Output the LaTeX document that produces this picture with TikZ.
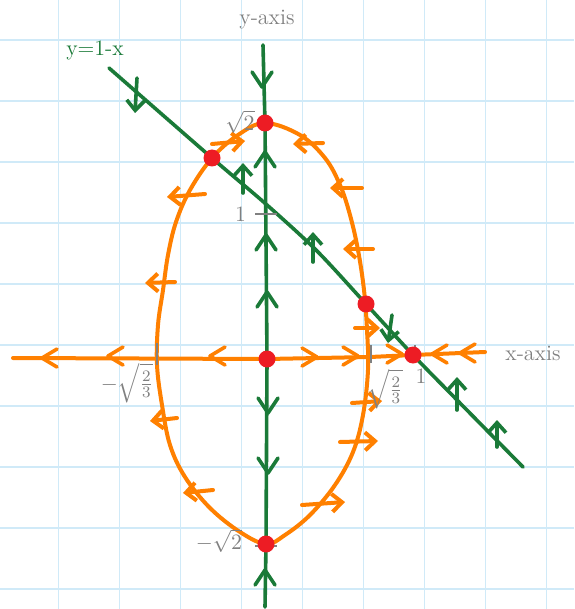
\documentclass[tikz,border=0pt]{standalone}
\usepackage{amsmath}
\usetikzlibrary{arrows.meta, positioning}

\definecolor{penorange}{RGB}{255,128,0}
\definecolor{pengreen}{RGB}{26,122,56}
\definecolor{penred}{RGB}{237,28,36}
\definecolor{pengrey}{RGB}{128,128,128}
\definecolor{gridblue}{RGB}{208,234,248}

\begin{document}
\begin{tikzpicture}[
    x=0.5pt, y=-0.5pt, % one unit = one pixel of the sketch
    >={Straight Barb[length=5pt,width=9pt]}, % hand drawn arrow heads
    gridline/.style={gridblue, line width=0.8pt}, % squared paper
    orangepen/.style={penorange, line width=2pt, line cap=round, line join=round},
    greenpen/.style={pengreen, line width=1.8pt, line cap=round, line join=round},
    tickmark/.style={pengrey, line width=1.2pt}, % grey tick marks
    dot/.style={fill=penred, circle, inner sep=0pt, minimum size=8.5pt}, % red fixed points
    labelstyle/.style={pengrey, font=\fontsize{11}{13}\selectfont}, % grey labels
    chev/.style={line width=1.8pt, line cap=round, line join=round} % chevrons on the lines
]

    % Page and squared paper
    \useasboundingbox (0,0) rectangle (574,609);
    \fill[white] (0,0) rectangle (574,609);
    \foreach \i in {0,...,8}
        \draw[gridline] (58.3+61*\i,0) -- (58.3+61*\i,609);
    \foreach \j in {0,...,9}
        \draw[gridline] (0,40+61*\j) -- (574,40+61*\j);

    % Fixed points
    \coordinate (top) at (265,123);    % sqrt 2
    \coordinate (bot) at (266,544);    % -sqrt 2
    \coordinate (orig) at (267,359);   % origin
    \coordinate (upleft) at (212,158); % ellipse meets y=1-x
    \coordinate (right) at (366,304);  % ellipse meets y=1-x
    \coordinate (one) at (413,355);    % (1,0)

    % Ellipse (orange)
    \draw[orangepen] plot[smooth cycle, tension=0.6] coordinates {
        (265,123) (300,135) (325,158) (340,185) (350,215) (358,250)
        (364,290) (367,330) (368,370) (363,415) (353,452) (335,485)
        (310,515) (285,535) (266,544) (240,532) (210,508) (185,477)
        (170,445) (162,405) (157,365) (158,325) (163,290) (168,255)
        (176,222) (190,190) (212,158) (238,135)};

    % x-axis (orange)
    \draw[orangepen] (13,358) -- (orig) -- (370,357) -- (one) -- (485,352);

    % y-axis (green)
    \draw[greenpen] (263,45) -- (top) -- (orig) -- (bot) -- (265,607);

    % Line y=1-x (green)
    \draw[greenpen] plot[smooth, tension=0.5] coordinates {
        (109,68) (212,158) (267,205) (317,251) (366,304)
        (413,355) (457,400) (523,467)};

    % Chevrons along the y-axis: tip x, tip y, +1 down / -1 up
    \foreach \x/\y/\s in {262/87/1, 265/152/-1, 266/235/-1, 267/292/-1,
                          268/413/1, 268/473/1, 265/570/-1}
        \draw[chev, pengreen] (\x-10,\y-15*\s) -- (\x,\y) -- (\x+10,\y-15*\s);

    % Chevrons along the x-axis: tip x, tip y, +1 right / -1 left
    \foreach \x/\y/\s in {42/358/-1, 108/356/-1, 210/356/-1, 317/357/1,
                          358/356/1, 402/354/1, 432/354/-1, 460/353/-1}
        \draw[chev, penorange] (\x-15*\s,\y-9) -- (\x,\y) -- (\x-15*\s,\y+9);

    % Horizontal flow across the ellipse
    \foreach \a/\b/\c/\d in {212/144/245/141, 205/194/167/197, 175/282/145/283,
                             177/418/150/421, 213/490/183/493, 323/143/293/144,
                             362/188/330/188, 373/249/343/249, 355/328/380/328,
                             352/403/382/401, 340/442/378/441, 302/505/345/502}
        \draw[orangepen, ->] (\a,\b) -- (\c,\d);

    % Vertical flow across y=1-x
    \foreach \a/\b/\c/\d in {137/78/135/113, 243/193/243/163, 313/262/313/232,
                             392/315/388/343, 457/410/457/377, 497/447/497/420}
        \draw[greenpen, ->] (\a,\b) -- (\c,\d);

    % Ticks
    \draw[tickmark] (157,343) -- (157,365);
    \draw[tickmark] (371,345) -- (371,363);
    \draw[tickmark] (415,345) -- (415,363);
    \draw[tickmark] (255,214) coordinate (ytick) -- (277,214);
    \draw[tickmark] (255,546) -- (277,546);

    % Labels
    \node[labelstyle] (yaxis) at (267,20) {y-axis};
    \node[labelstyle] (xaxis) at (533,353) {x-axis};
    \node[labelstyle, pengreen] (diag) at (95,50) {y=1-x};
    \node[labelstyle] (rtwo) at (240,122) {$\sqrt{2}$};
    \node[labelstyle, left=1pt of ytick] (yone) {1};
    \node[labelstyle] (mrtwo) at (219,541) {$-\sqrt{2}$};
    \node[labelstyle] (mrtt) at (127,383) {$-\sqrt{\tfrac{2}{3}}$};
    \node[labelstyle] (rtt) at (385,389) {$\sqrt{\tfrac{2}{3}}$};
    \node[labelstyle] (xone) at (421,376) {1};

    % Red dots
    \foreach \p in {top, bot, orig, upleft, right, one}
        \node[dot] (dot-\p) at (\p) {};

\end{tikzpicture}
\end{document}
